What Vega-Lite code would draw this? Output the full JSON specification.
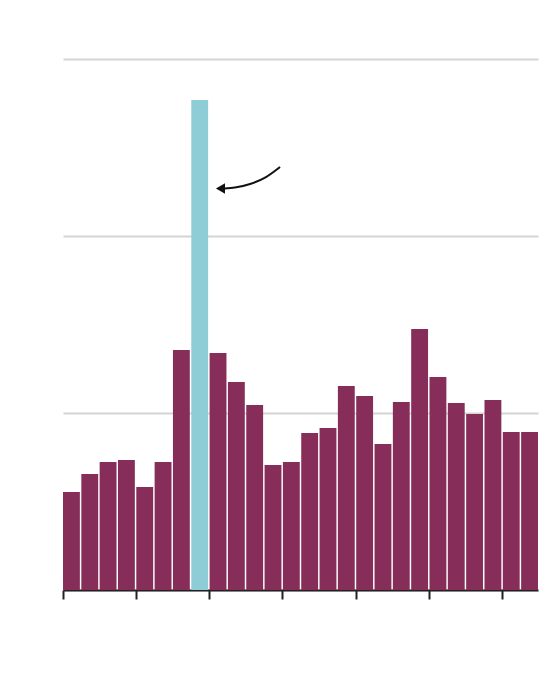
{
  "$schema": "https://vega.github.io/schema/vega-lite/v6.json",
  "autosize": {"type": "none"},
  "padding": {"left": 63, "top": 59, "right": 22, "bottom": 88},
  "width": 475,
  "height": 531,
  "background": "white",
  "config": {"view": {"stroke": null}},
  "layer": [
    {
      "data": {"values": [
        {"year": 1990, "v": 55.4, "hl": "no"},
        {"year": 1991, "v": 65.5, "hl": "no"},
        {"year": 1992, "v": 72.3, "hl": "no"},
        {"year": 1993, "v": 73.4, "hl": "no"},
        {"year": 1994, "v": 58.2, "hl": "no"},
        {"year": 1995, "v": 72.3, "hl": "no"},
        {"year": 1996, "v": 135.6, "hl": "no"},
        {"year": 1997, "v": 276.8, "hl": "yes"},
        {"year": 1998, "v": 133.9, "hl": "no"},
        {"year": 1999, "v": 117.5, "hl": "no"},
        {"year": 2000, "v": 104.5, "hl": "no"},
        {"year": 2001, "v": 70.6, "hl": "no"},
        {"year": 2002, "v": 72.3, "hl": "no"},
        {"year": 2003, "v": 88.7, "hl": "no"},
        {"year": 2004, "v": 91.5, "hl": "no"},
        {"year": 2005, "v": 115.3, "hl": "no"},
        {"year": 2006, "v": 109.6, "hl": "no"},
        {"year": 2007, "v": 82.5, "hl": "no"},
        {"year": 2008, "v": 106.2, "hl": "no"},
        {"year": 2009, "v": 147.5, "hl": "no"},
        {"year": 2010, "v": 120.3, "hl": "no"},
        {"year": 2011, "v": 105.6, "hl": "no"},
        {"year": 2012, "v": 99.4, "hl": "no"},
        {"year": 2013, "v": 107.3, "hl": "no"},
        {"year": 2014, "v": 89.3, "hl": "no"},
        {"year": 2015, "v": 89.3, "hl": "no"}
      ]},
      "mark": {"type": "bar", "cornerRadius": 0},
      "encoding": {
        "x": {
          "field": "year", "type": "ordinal",
          "scale": {"paddingInner": 0.08, "paddingOuter": 0},
          "axis": {
            "title": null, "labels": false, "bandPosition": 0,
            "values": [1990, 1994, 1998, 2002, 2006, 2010, 2014],
            "tickSize": 9, "tickColor": "#222222", "tickWidth": 2,
            "domainColor": "#222222", "domainWidth": 2, "grid": false
          }
        },
        "y": {
          "field": "v", "type": "quantitative",
          "scale": {"domain": [0, 300], "nice": false},
          "axis": {
            "title": null, "labels": false, "ticks": false, "domain": false,
            "values": [0, 100, 200, 300], "grid": true,
            "gridColor": "#d4d4d4", "gridWidth": 2
          }
        },
        "color": {
          "field": "hl", "type": "nominal",
          "scale": {"domain": ["no", "yes"], "range": ["#862d59", "#8ecdd6"]},
          "legend": null
        }
      }
    },
    {
      "data": {"values": [
        {"ax": 11.88, "ay": 239.0},
        {"ax": 11.11, "ay": 233.3},
        {"ax": 10.24, "ay": 229.4},
        {"ax": 9.41, "ay": 227.4},
        {"ax": 8.85, "ay": 226.9}
      ]},
      "mark": {"type": "line", "color": "#111111", "strokeWidth": 2, "interpolate": "monotone"},
      "encoding": {
        "x": {"field": "ax", "type": "quantitative", "scale": {"domain": [0, 26], "nice": false, "zero": false}, "axis": null},
        "y": {"field": "ay", "type": "quantitative", "scale": {"domain": [0, 300], "nice": false}}
      }
    },
    {
      "data": {"values": [{"ax": 8.62, "ay": 226.9}]},
      "mark": {"type": "point", "shape": "triangle-left", "filled": true, "color": "#111111", "size": 110, "opacity": 1},
      "encoding": {
        "x": {"field": "ax", "type": "quantitative", "scale": {"domain": [0, 26], "nice": false, "zero": false}, "axis": null},
        "y": {"field": "ay", "type": "quantitative", "scale": {"domain": [0, 300], "nice": false}}
      }
    }
  ],
  "resolve": {"scale": {"x": "independent"}, "axis": {"x": "independent"}}
}
